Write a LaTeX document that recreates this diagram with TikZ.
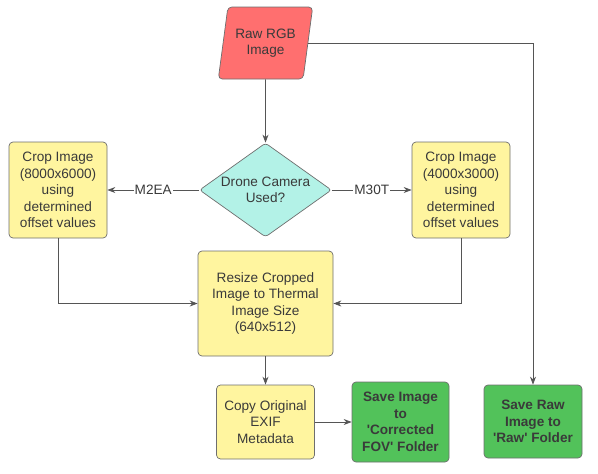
\documentclass[tikz,border=0pt]{standalone}
\usepackage{fontspec}
\setmainfont{Liberation Sans}
\usetikzlibrary{shapes.geometric,arrows.meta}
\definecolor{rawred}{HTML}{FF6F6F}
\definecolor{askaqua}{HTML}{B3F2E7}
\definecolor{boxyellow}{HTML}{FFF59F}
\definecolor{savegreen}{HTML}{52C25A}
\definecolor{edgegray}{HTML}{6E6E6E}
\definecolor{linegray}{HTML}{555555}
\definecolor{textgray}{HTML}{3A3A3A}

\begin{document}
\begin{tikzpicture}[x=1pt,y=-1pt,
	every node/.style={font=\fontsize{13.6}{16.5}\selectfont, text=textgray, align=center},
	stepbox/.style={draw=edgegray, line width=0.7pt, rounded corners=4pt, fill=boxyellow, inner sep=0pt},
	savebox/.style={stepbox, fill=savegreen, font=\fontsize{13.6}{16.5}\selectfont\bfseries},
	flow/.style={draw=linegray, line width=0.8pt, -{Stealth[length=8pt,width=6pt]}}]
	\useasboundingbox (0,0) rectangle (598,474);
	\node[draw=edgegray, line width=0.7pt, fill=rawred, shape=trapezium, trapezium left angle=75, trapezium right angle=105,
		trapezium stretches=true, minimum width=95pt, minimum height=72pt, rounded corners=4pt, inner sep=0pt] (raw) at (265.5,43) {Raw RGB\\Image};
	\node[draw=edgegray, line width=0.7pt, fill=askaqua, shape=diamond, shape aspect=1.4, inner sep=0pt,
		minimum width=132pt, minimum height=94pt, rounded corners=3pt] (drone) at (265.5,190) {Drone Camera\\Used?};
	\node[stepbox, minimum width=98pt, minimum height=96pt] (cropl) at (58,190) {Crop Image\\(8000x6000)\\using\\determined\\offset values};
	\node[stepbox, minimum width=98pt, minimum height=96pt] (cropr) at (461,190) {Crop Image\\(4000x3000)\\using\\determined\\offset values};
	\node[stepbox, minimum width=135pt, minimum height=105pt] (resize) at (265.5,303.5) {Resize Cropped\\Image to Thermal\\Image Size\\(640x512)};
	\node[stepbox, minimum width=98pt, minimum height=74pt] (exif) at (265.5,422) {Copy Original\\EXIF\\Metadata};
	\node[savebox, minimum width=97pt, minimum height=80pt] (savefov) at (400.5,422) {Save Image\\to\\\textquotesingle Corrected\\FOV\textquotesingle{} Folder};
	\node[savebox, minimum width=98pt, minimum height=73pt] (saveraw) at (533,421.5) {Save Raw\\Image to\\\textquotesingle Raw\textquotesingle{} Folder};

	\draw[flow] (raw.south) -- (drone.north);
	\draw[flow] (drone.west) -- node[fill=white, inner sep=1pt] {M2EA} (cropl.east);
	\draw[flow] (drone.east) -- node[fill=white, inner sep=1pt] {M30T} (cropr.west);
	\draw[flow] (cropl.south) |- (resize.west);
	\draw[flow] (cropr.south) |- (resize.east);
	\draw[flow] (resize.south) -- (exif.north);
	\draw[flow] (exif.east) -- (savefov.west);
	\draw[flow] (raw.east) -| (saveraw.north);
\end{tikzpicture}
\end{document}
